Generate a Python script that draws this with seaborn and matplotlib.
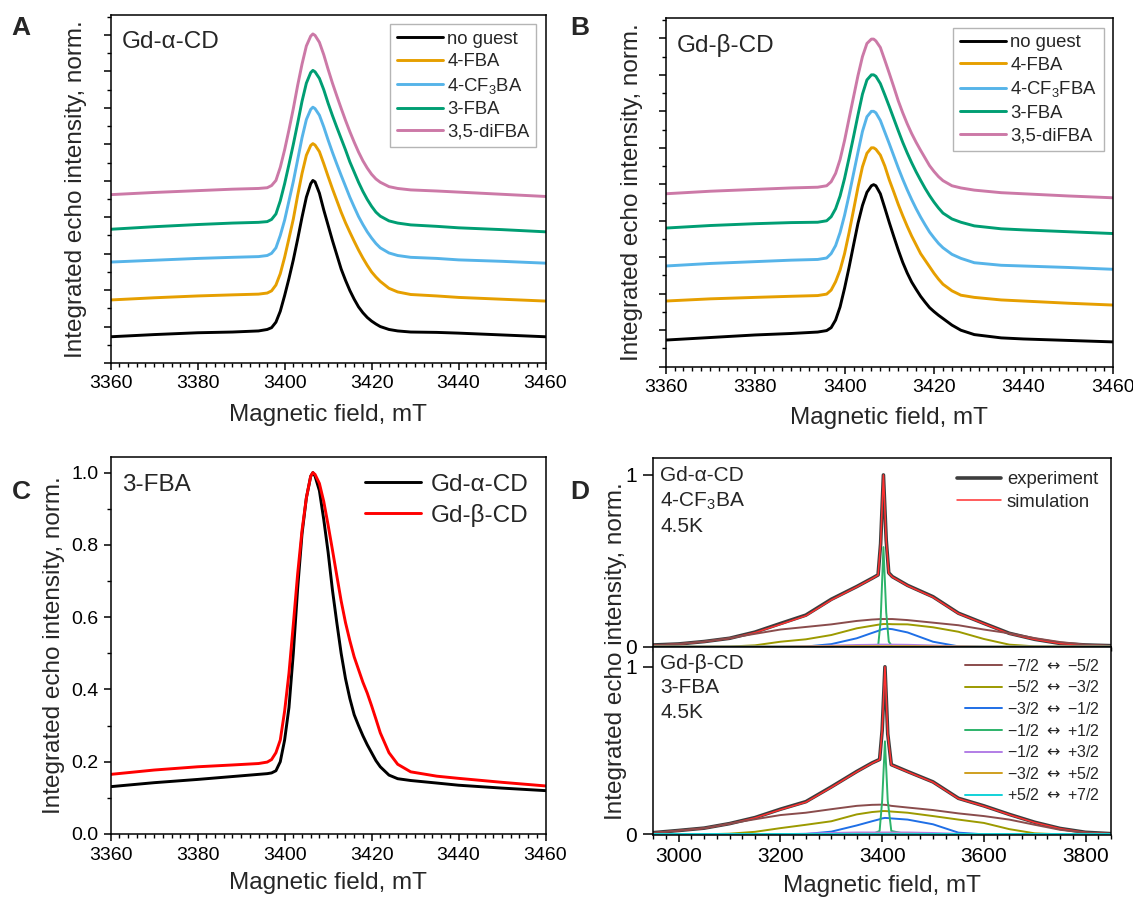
import matplotlib
matplotlib.use("Agg")
import matplotlib.pyplot as plt
from matplotlib.ticker import MultipleLocator, FixedLocator, FixedFormatter, FormatStrFormatter, NullFormatter
import seaborn as sns

# field grid (mT) shared by panels A, B and C
field_ab = [3360, 3370, 3380, 3388, 3394, 3396, 3397, 3398, 3399, 3400, 3401, 3402, 3403,
            3404, 3405, 3406, 3406.5, 3407, 3408, 3409, 3410, 3411, 3412, 3413, 3414, 3415,
            3416, 3417, 3418, 3419, 3420, 3421, 3422, 3424, 3426, 3429, 3435, 3440, 3450, 3460]

# ---------------- panel A : Gd-alpha-CD (stacked, offset 1 unit) ----------------
a_no_guest = [0.72, 0.78, 0.83, 0.85, 0.88, 0.92, 0.97, 1.12, 1.42, 1.85, 2.32, 2.83, 3.40,
              4.00, 4.55, 4.92, 5.01, 4.97, 4.66, 4.20, 3.78, 3.36, 2.97, 2.58, 2.27, 1.99,
              1.75, 1.54, 1.38, 1.25, 1.15, 1.07, 1.00, 0.92, 0.88, 0.85, 0.84, 0.82, 0.77, 0.72]
a_4fba = [1.73, 1.79, 1.84, 1.87, 1.89, 1.92, 1.98, 2.14, 2.45, 2.90, 3.42, 3.95, 4.60,
          5.20, 5.70, 5.97, 6.02, 5.98, 5.80, 5.47, 5.12, 4.78, 4.46, 4.14, 3.85, 3.59,
          3.34, 3.10, 2.88, 2.68, 2.50, 2.36, 2.24, 2.05, 1.95, 1.88, 1.84, 1.80, 1.75, 1.70]
a_4cf3ba = [2.77, 2.82, 2.87, 2.90, 2.92, 2.95, 3.01, 3.16, 3.50, 3.92, 4.45, 4.98, 5.58,
            6.18, 6.68, 6.96, 7.02, 6.98, 6.80, 6.48, 6.12, 5.78, 5.46, 5.15, 4.85, 4.55,
            4.28, 4.02, 3.80, 3.60, 3.43, 3.28, 3.16, 3.02, 2.95, 2.90, 2.87, 2.83, 2.79, 2.74]
a_3fba = [3.67, 3.74, 3.80, 3.84, 3.86, 3.88, 3.94, 4.09, 4.45, 4.92, 5.45, 6.00, 6.58,
          7.18, 7.68, 7.97, 8.03, 7.99, 7.81, 7.50, 7.13, 6.79, 6.47, 6.16, 5.85, 5.52,
          5.24, 4.96, 4.71, 4.49, 4.30, 4.14, 4.03, 3.90, 3.84, 3.79, 3.75, 3.71, 3.66, 3.60]
a_35difba = [4.62, 4.68, 4.73, 4.77, 4.79, 4.81, 4.87, 5.01, 5.37, 5.85, 6.40, 6.98, 7.62,
             8.20, 8.70, 8.97, 9.03, 8.99, 8.80, 8.46, 8.06, 7.68, 7.33, 6.99, 6.66, 6.35,
             6.06, 5.79, 5.55, 5.35, 5.18, 5.05, 4.96, 4.84, 4.79, 4.75, 4.72, 4.69, 4.63, 4.57]

# ---------------- panel B : Gd-beta-CD (stacked, offset 1 unit) ----------------
b_no_guest = [0.73, 0.80, 0.87, 0.91, 0.95, 0.99, 1.07, 1.28, 1.64, 2.15, 2.72, 3.33, 3.93,
              4.42, 4.78, 4.96, 4.99, 4.96, 4.74, 4.35, 3.95, 3.57, 3.20, 2.86, 2.57, 2.32,
              2.12, 1.93, 1.77, 1.62, 1.51, 1.41, 1.32, 1.14, 1.00, 0.88, 0.79, 0.76, 0.72, 0.68]
b_4fba = [1.80, 1.86, 1.90, 1.93, 1.95, 1.99, 2.10, 2.33, 2.65, 3.10, 3.67, 4.29, 4.92,
          5.48, 5.85, 6.00, 6.00, 5.96, 5.80, 5.50, 5.12, 4.79, 4.45, 4.14, 3.85, 3.58,
          3.34, 3.10, 2.92, 2.74, 2.56, 2.40, 2.26, 2.08, 1.96, 1.90, 1.83, 1.80, 1.74, 1.69]
b_4cf3fba = [2.76, 2.83, 2.88, 2.92, 2.94, 2.98, 3.10, 3.32, 3.68, 4.15, 4.70, 5.29, 5.88,
             6.45, 6.85, 7.00, 7.00, 6.96, 6.75, 6.43, 6.11, 5.78, 5.45, 5.14, 4.85, 4.58,
             4.33, 4.10, 3.89, 3.69, 3.53, 3.38, 3.26, 3.08, 2.97, 2.85, 2.78, 2.76, 2.72, 2.67]
b_3fba = [3.80, 3.87, 3.92, 3.95, 3.96, 4.00, 4.11, 4.33, 4.68, 5.16, 5.72, 6.30, 6.90,
          7.47, 7.86, 8.00, 8.00, 7.96, 7.76, 7.45, 7.13, 6.80, 6.47, 6.15, 5.86, 5.59,
          5.34, 5.11, 4.89, 4.69, 4.51, 4.35, 4.21, 4.05, 3.96, 3.86, 3.78, 3.75, 3.70, 3.65]
b_35difba = [4.74, 4.81, 4.86, 4.90, 4.92, 4.96, 5.07, 5.30, 5.68, 6.20, 6.80, 7.39, 7.98,
             8.50, 8.86, 8.98, 8.98, 8.93, 8.75, 8.40, 8.04, 7.67, 7.29, 6.96, 6.66, 6.39,
             6.15, 5.93, 5.72, 5.51, 5.35, 5.21, 5.10, 4.96, 4.90, 4.84, 4.77, 4.74, 4.68, 4.63]

series_labels_a = ["no guest", "4-FBA", r"4-CF$_\mathregular{3}$BA", "3-FBA", "3,5-diFBA"]
series_labels_b = ["no guest", "4-FBA", r"4-CF$_\mathregular{3}$FBA", "3-FBA", "3,5-diFBA"]
series_colors = ["black", "#E69F00", "#56B4E9", "#009E73", "#CC79A7"]

# ---------------- panel C : 3-FBA, normalised ----------------
c_alpha = [0.131, 0.142, 0.151, 0.159, 0.165, 0.167, 0.169, 0.175, 0.200, 0.260, 0.350, 0.500, 0.680,
           0.830, 0.930, 0.990, 1.000, 0.990, 0.950, 0.870, 0.780, 0.675, 0.585, 0.500, 0.430, 0.375,
           0.330, 0.300, 0.272, 0.247, 0.225, 0.203, 0.186, 0.163, 0.153, 0.148, 0.141, 0.135, 0.127, 0.120]
c_beta = [0.165, 0.177, 0.186, 0.191, 0.195, 0.199, 0.206, 0.225, 0.260, 0.340, 0.445, 0.580, 0.720,
          0.840, 0.930, 0.990, 1.000, 0.995, 0.970, 0.920, 0.855, 0.786, 0.715, 0.645, 0.585, 0.535,
          0.490, 0.455, 0.420, 0.390, 0.355, 0.318, 0.280, 0.225, 0.193, 0.172, 0.160, 0.154, 0.143, 0.133]

# ---------------- panel D : wide field sweeps with simulation ----------------
field_d1 = [2950, 3000, 3050, 3100, 3150, 3200, 3250, 3300, 3350, 3380, 3392, 3397,
            3402.5, 3408, 3413, 3420, 3450, 3500, 3550, 3600, 3650, 3700, 3750, 3800, 3850]
d1_exp = [0.010, 0.016, 0.030, 0.049, 0.085, 0.135, 0.184, 0.276, 0.350, 0.398, 0.418, 0.600,
          1.000, 0.620, 0.430, 0.408, 0.357, 0.291, 0.195, 0.136, 0.078, 0.043, 0.019, 0.010, 0.006]
d1_sim = [0.008, 0.015, 0.029, 0.048, 0.082, 0.130, 0.180, 0.272, 0.348, 0.396, 0.417, 0.600,
          1.000, 0.615, 0.428, 0.406, 0.355, 0.288, 0.193, 0.134, 0.076, 0.042, 0.018, 0.009, 0.005]
d1_m72 = [0.008, 0.016, 0.030, 0.050, 0.075, 0.100, 0.115, 0.130, 0.150, 0.158, 0.160, 0.161,
          0.161, 0.161, 0.161, 0.161, 0.155, 0.140, 0.125, 0.100, 0.078, 0.050, 0.027, 0.012, 0.005]
d1_m52 = [0, 0, 0, 0.001, 0.008, 0.029, 0.043, 0.068, 0.107, 0.122, 0.128, 0.130,
          0.132, 0.132, 0.132, 0.131, 0.130, 0.113, 0.087, 0.045, 0.012, 0.002, 0, 0, 0]
d1_m32 = [0, 0, 0, 0, 0, 0, 0.001, 0.015, 0.049, 0.080, 0.092, 0.098,
          0.103, 0.105, 0.104, 0.102, 0.083, 0.029, 0.002, 0, 0, 0, 0, 0, 0]
d1_m12 = [0, 0, 0, 0, 0, 0, 0, 0, 0, 0, 0, 0.150,
          0.580, 0.200, 0.030, 0, 0, 0, 0, 0, 0, 0, 0, 0, 0]
d1_m12b = [0, 0, 0, 0, 0, 0, 0.002, 0.006, 0.010, 0.011, 0.012, 0.012,
           0.012, 0.012, 0.012, 0.012, 0.011, 0.007, 0.002, 0, 0, 0, 0, 0, 0]
d1_m32b = [0, 0, 0, 0, 0, 0, 0.001, 0.002, 0.003, 0.003, 0.003, 0.003,
           0.003, 0.003, 0.003, 0.003, 0.003, 0.002, 0.001, 0, 0, 0, 0, 0, 0]
d1_p52 = [0.001] * 25

field_d2 = [2950, 3000, 3050, 3100, 3150, 3200, 3250, 3300, 3350, 3380, 3395, 3400,
            3405.5, 3411, 3418, 3450, 3500, 3550, 3600, 3650, 3700, 3750, 3800, 3850]
d2_exp = [0.010, 0.023, 0.037, 0.064, 0.100, 0.150, 0.195, 0.283, 0.375, 0.426, 0.447, 0.620,
          1.000, 0.600, 0.416, 0.375, 0.313, 0.215, 0.170, 0.119, 0.072, 0.035, 0.012, 0.004]
d2_sim = [0.009, 0.022, 0.036, 0.063, 0.098, 0.147, 0.192, 0.280, 0.373, 0.424, 0.446, 0.620,
          1.000, 0.600, 0.414, 0.373, 0.311, 0.213, 0.168, 0.117, 0.070, 0.034, 0.011, 0.003]
d2_m72 = [0.008, 0.023, 0.037, 0.064, 0.090, 0.115, 0.129, 0.150, 0.170, 0.176, 0.177, 0.177,
          0.176, 0.174, 0.170, 0.160, 0.145, 0.125, 0.109, 0.088, 0.057, 0.027, 0.010, 0.003]
d2_m52 = [0, 0, 0, 0.004, 0.015, 0.037, 0.057, 0.078, 0.119, 0.133, 0.137, 0.139,
          0.139, 0.138, 0.136, 0.129, 0.109, 0.088, 0.068, 0.031, 0.006, 0, 0, 0]
d2_m32 = [0, 0, 0, 0, 0, 0, 0.002, 0.016, 0.053, 0.078, 0.090, 0.095,
          0.098, 0.097, 0.095, 0.088, 0.060, 0.010, 0, 0, 0, 0, 0, 0]
d2_m12 = [0, 0, 0, 0, 0, 0, 0, 0, 0, 0, 0.020, 0.200,
          0.555, 0.200, 0.020, 0, 0, 0, 0, 0, 0, 0, 0, 0]
d2_m12b = [0, 0, 0, 0, 0, 0, 0.004, 0.008, 0.011, 0.011, 0.011, 0.011,
           0.011, 0.011, 0.011, 0.011, 0.008, 0.003, 0, 0, 0, 0, 0, 0]
d2_m32b = [0, 0, 0, 0, 0, 0, 0.001, 0.002, 0.003, 0.003, 0.003, 0.003,
           0.003, 0.003, 0.003, 0.003, 0.002, 0.001, 0, 0, 0, 0, 0, 0]
d2_p52 = [0.001] * 24

# mathtext arrow (wide DejaVu glyph, as in the original)
ARR = r" $\leftrightarrow$ "
trans_labels = ["\u22127/2" + ARR + "\u22125/2", "\u22125/2" + ARR + "\u22123/2",
                "\u22123/2" + ARR + "\u22121/2", "\u22121/2" + ARR + "+1/2",
                "\u22121/2" + ARR + "+3/2", "\u22123/2" + ARR + "+5/2",
                "+5/2" + ARR + "+7/2"]
trans_colors = ["#8a4c4c", "#9c9a00", "#1f6fe6", "#2db36a", "#b27ee6", "#cf9f1f", "#12d2d8"]

sns.set_theme(style="ticks")
plt.rcParams["font.family"] = ["Liberation Sans", "DejaVu Sans"]
plt.rcParams["mathtext.fontset"] = "dejavusans"
plt.rcParams["axes.linewidth"] = 1.1

fig = plt.figure(figsize=(11.33, 9.02), dpi=100)
W, H = 1133.0, 902.0


def rect(l, r, t, b):
    return [l / W, 1 - b / H, (r - l) / W, (b - t) / H]


def style(ax, tick=14, length=5):
    ax.tick_params(which="major", direction="out", length=length, width=1.1, labelsize=tick, pad=4, colors="black")
    ax.tick_params(which="minor", direction="out", length=2.8, width=1.0, colors="black")
    for s in ax.spines.values():
        s.set_visible(True)
        s.set_color("black")


ax_a = fig.add_axes(rect(110.7, 545.5, 15, 363))
ax_b = fig.add_axes(rect(665.6, 1113, 18.3, 366.7))
ax_c = fig.add_axes(rect(110.7, 545.5, 456.7, 834))
ax_d1 = fig.add_axes(rect(653.3, 1111, 458.3, 646.7))
ax_d2 = fig.add_axes(rect(653.3, 1111, 646.7, 835))

# stacked panels
for ax, ys, labels, title in [
        (ax_a, [a_no_guest, a_4fba, a_4cf3ba, a_3fba, a_35difba], series_labels_a, "Gd-\u03b1-CD"),
        (ax_b, [b_no_guest, b_4fba, b_4cf3fba, b_3fba, b_35difba], series_labels_b, "Gd-\u03b2-CD")]:
    for y, lab, col in zip(ys, labels, series_colors):
        sns.lineplot(x=field_ab, y=y, ax=ax, color=col, lw=2.1, label=lab, estimator=None, sort=False)
    ax.set_xlim(3360, 3460)
    ax.set_ylim(0, 9.55)
    ax.xaxis.set_major_locator(MultipleLocator(20))
    ax.xaxis.set_minor_locator(MultipleLocator(2))
    ax.yaxis.set_major_locator(MultipleLocator(1))
    ax.yaxis.set_minor_locator(MultipleLocator(0.5))
    ax.yaxis.set_major_formatter(NullFormatter())
    style(ax)
    ax.set_xlabel("Magnetic field, mT", fontsize=17.5, labelpad=8)
    ax.text(0.025, 0.955, title, transform=ax.transAxes, fontsize=17.5, ha="left", va="top")
    leg = ax.legend(loc="upper right", fontsize=13.3, frameon=True, fancybox=False,
                    framealpha=1, edgecolor="#b5b5b5", handlelength=2.5, handletextpad=0.25,
                    labelspacing=0.3, borderpad=0.35, borderaxespad=0.5)
    leg.get_frame().set_linewidth(1.0)
ax_a.set_ylabel("Integrated echo intensity, norm.", fontsize=17.5, labelpad=8)
ax_b.set_ylabel("Integrated echo intensity, norm.", fontsize=17.5, labelpad=7)

# panel C
sns.lineplot(x=field_ab, y=c_alpha, ax=ax_c, color="black", lw=2.1, label="Gd-\u03b1-CD", estimator=None, sort=False)
sns.lineplot(x=field_ab, y=c_beta, ax=ax_c, color="#ff0000", lw=2.1, label="Gd-\u03b2-CD", estimator=None, sort=False)
ax_c.set_xlim(3360, 3460)
ax_c.set_ylim(0, 1.044)
ax_c.xaxis.set_major_locator(MultipleLocator(20))
ax_c.xaxis.set_minor_locator(MultipleLocator(2))
ax_c.yaxis.set_major_locator(MultipleLocator(0.2))
ax_c.yaxis.set_minor_locator(MultipleLocator(0.1))
ax_c.yaxis.set_major_formatter(FormatStrFormatter("%.1f"))
style(ax_c)
ax_c.set_xlabel("Magnetic field, mT", fontsize=17.5, labelpad=6)
ax_c.set_ylabel("Integrated echo intensity, norm.", fontsize=17.5, labelpad=4)
ax_c.text(0.025, 0.955, "3-FBA", transform=ax_c.transAxes, fontsize=17.5, ha="left", va="top")
ax_c.legend(loc="upper right", fontsize=17.5, frameon=False, handlelength=2.3,
            handletextpad=0.4, labelspacing=0.32, borderaxespad=0.3)

# panel D
for ax, fx, exp, sim, comps, txt in [
        (ax_d1, field_d1, d1_exp, d1_sim,
         [d1_m72, d1_m52, d1_m32, d1_m12, d1_m12b, d1_m32b, d1_p52],
         "Gd-\u03b1-CD\n" + r"4-CF$_\mathregular{3}$BA" + "\n4.5K"),
        (ax_d2, field_d2, d2_exp, d2_sim,
         [d2_m72, d2_m52, d2_m32, d2_m12, d2_m12b, d2_m32b, d2_p52], "Gd-\u03b2-CD\n3-FBA\n4.5K")]:
    sns.lineplot(x=fx, y=exp, ax=ax, color="#3d3d3d", lw=2.6, label="experiment", estimator=None, sort=False)
    sns.lineplot(x=fx, y=sim, ax=ax, color="#ff3030", lw=1.1, label="simulation", estimator=None, sort=False)
    for y, lab, col in zip(comps, trans_labels, trans_colors):
        sns.lineplot(x=fx, y=y, ax=ax, color=col, lw=1.4, label=lab, estimator=None, sort=False)
    ax.set_xlim(2950, 3850)
    ax.xaxis.set_major_locator(MultipleLocator(200))
    ax.xaxis.set_minor_locator(MultipleLocator(25))
    ax.yaxis.set_major_locator(FixedLocator([0, 1]))
    ax.yaxis.set_major_formatter(FixedFormatter(["0", "1"]))
    style(ax, tick=15)
    ax.tick_params(axis="y", which="major", length=7, pad=5)
    ax.text(0.015, 0.96, txt, transform=ax.transAxes, fontsize=15, ha="left", va="top", linespacing=1.35)
    ax.set_ylabel("")
ax_d1.set_ylim(0, 1.097)
ax_d2.set_ylim(-0.004, 1.12)
ax_d1.tick_params(axis="x", labelbottom=False)
ax_d2.set_xlabel("Magnetic field, mT", fontsize=17.5, labelpad=6)

h1, l1 = ax_d1.get_legend_handles_labels()
ax_d1.legend(h1[:2], l1[:2], loc="upper right", fontsize=13.3, frameon=False,
             handlelength=2.4, handletextpad=0.3, labelspacing=0.3, borderaxespad=0.3)
h2, l2 = ax_d2.get_legend_handles_labels()
ax_d2.legend(h2[2:], l2[2:], loc="upper right", fontsize=11.5, frameon=False,
             handlelength=2.3, handletextpad=0.3, labelspacing=0.35, borderaxespad=0.3)

fig.text(616 / W, 1 - 651 / H, "Integrated echo intensity, norm.", rotation=90,
         fontsize=17.5, ha="center", va="center")

for letter, x, y in [("A", 21, 28), ("B", 580, 28), ("C", 21, 492), ("D", 580, 492)]:
    fig.text(x / W, 1 - y / H, letter, fontsize=19, fontweight="bold", ha="center", va="center")

fig.savefig("out.png", dpi=100, facecolor="white")
